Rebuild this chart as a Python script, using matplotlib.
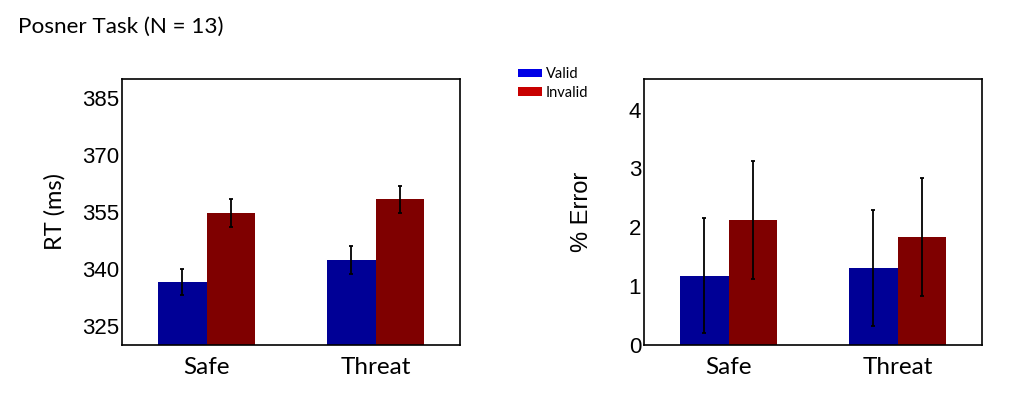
import matplotlib.pyplot as plt
import numpy as np
from matplotlib.patches import Patch

# data
conditions = ["Safe", "Threat"]
rt_valid = [336.6, 342.4]
rt_invalid = [354.7, 358.3]
rt_valid_err = [3.5, 3.6]
rt_invalid_err = [3.6, 3.5]

err_valid = [1.18, 1.31]
err_invalid = [2.13, 1.83]
err_valid_sd = [0.98, 0.99]
err_invalid_sd = [1.0, 1.0]

rt_ticks = [325, 340, 355, 370, 385]
err_ticks = [0, 1, 2, 3, 4]

BAR_BLUE = "#000096"
BAR_RED = "#7f0000"
LEG_BLUE = "#0000e6"
LEG_RED = "#c80000"

fig = plt.figure(figsize=(10.24, 4.0), dpi=100)
ax1 = fig.add_axes([122 / 1024, 55 / 400, 338 / 1024, 266 / 400])
ax2 = fig.add_axes([644 / 1024, 55 / 400, 338 / 1024, 266 / 400])

x = np.arange(len(conditions))
w = 0.285


def draw(ax, valid, invalid, verr, ierr, ylim, yticks, ylabel, ylabel_font, pad):
    ax.bar(x - w / 2, valid, w, color=BAR_BLUE, zorder=2)
    ax.bar(x + w / 2, invalid, w, color=BAR_RED, zorder=2)
    ax.errorbar(x - w / 2, valid, yerr=verr, fmt="none", ecolor="black",
                elinewidth=1.3, capsize=1.5, capthick=1.3, zorder=3)
    ax.errorbar(x + w / 2, invalid, yerr=ierr, fmt="none", ecolor="black",
                elinewidth=1.3, capsize=1.5, capthick=1.3, zorder=3)
    ax.set_xlim(-0.5, 1.5)
    ax.set_ylim(*ylim)
    ax.set_yticks(yticks)
    ax.set_xticks(x)
    ax.set_xticklabels(conditions, fontsize=17.5, family="Lato")
    for lab in ax.get_yticklabels():
        lab.set_fontsize(16)
        lab.set_family("Liberation Sans")
    ax.tick_params(axis="x", length=0, pad=9)
    ax.tick_params(axis="y", length=0, pad=2)
    ax.set_ylabel(ylabel, fontsize=17, family=ylabel_font, labelpad=pad)
    for sp in ax.spines.values():
        sp.set_linewidth(1.2)


draw(ax1, rt_valid, rt_invalid, rt_valid_err, rt_invalid_err,
     (320, 390), rt_ticks, "RT (ms)", "Lato", 12)
draw(ax2, err_valid, err_invalid, err_valid_sd, err_invalid_sd,
     (0, 4.52), err_ticks, "% Error", "Liberation Sans", 26)

fig.text(18 / 1024, 1 - 27 / 400, "Posner Task (N = 13)", fontsize=16.2,
         family="Lato", va="center", ha="left")

handles = [Patch(facecolor=LEG_BLUE), Patch(facecolor=LEG_RED)]
fig.legend(handles, ["Valid", "Invalid"], loc="upper left",
           bbox_to_anchor=(508 / 1024, 1 - 57 / 400), frameon=False,
           handlelength=1.6, handleheight=0.55,
           handletextpad=0.3, labelspacing=0.3, borderpad=0.2,
           prop={"family": "Lato", "size": 10.5})

fig.savefig("out.png", dpi=100)
